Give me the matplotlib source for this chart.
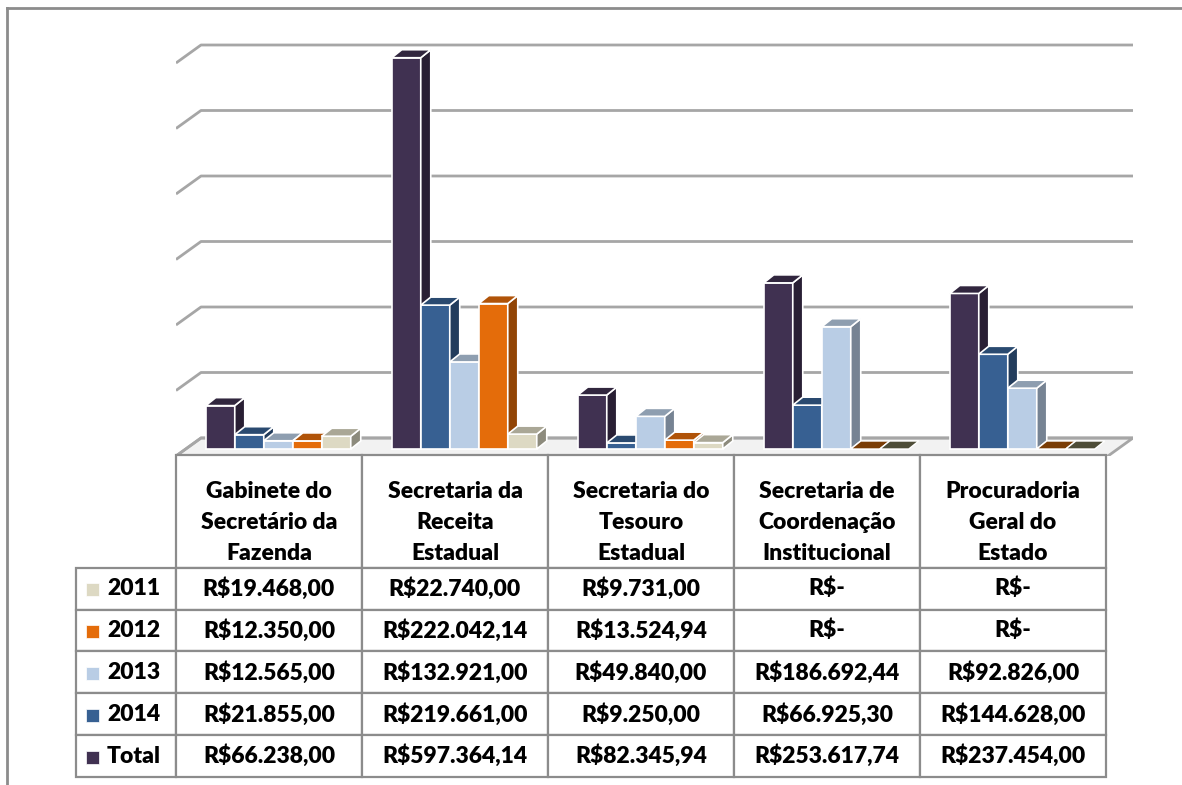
import numpy as np
import matplotlib.pyplot as plt
from matplotlib.patches import Polygon, Rectangle
from matplotlib.lines import Line2D
from matplotlib.transforms import Affine2D

plt.rcParams['font.family'] = ['Lato', 'DejaVu Sans']

categorias = ['Gabinete do\nSecretário da\nFazenda',
              'Secretaria da\nReceita\nEstadual',
              'Secretaria do\nTesouro\nEstadual',
              'Secretaria de\nCoordenação\nInstitucional',
              'Procuradoria\nGeral do\nEstado']
anos = ['2011', '2012', '2013', '2014', 'Total']
v2011 = [19468.00, 22740.00, 9731.00, 0, 0]
v2012 = [12350.00, 222042.14, 13524.94, 0, 0]
v2013 = [12565.00, 132921.00, 49840.00, 186692.44, 92826.00]
v2014 = [21855.00, 219661.00, 9250.00, 66925.30, 144628.00]
vtotal = [66238.00, 597364.14, 82345.94, 253617.74, 237454.00]

cores = {'2011': '#DDD9C3', '2012': '#E46C0A', '2013': '#B9CDE5',
         '2014': '#376092', 'Total': '#403151'}
cor_zero = {'2011': '#4E4D38', '2012': '#7A3D06'}
series = {'2011': v2011, '2012': v2012, '2013': v2013, '2014': v2014, 'Total': vtotal}
ordem_barras = ['Total', '2014', '2013', '2012', '2011']


def brl(v):
    if v == 0:
        return 'R$-'
    s = f'{v:,.2f}'.replace(',', 'X').replace('.', ',').replace('X', '.')
    return 'R$' + s


def escurece(c, f):
    r, g, b = plt.matplotlib.colors.to_rgb(c)
    return (r * f, g * f, b * f)


W, H = 1182, 785
fig = plt.figure(figsize=(W / 100, H / 100), dpi=100)

# chart area (pixel layout)
L, R, T, B = 176, 1133, 40, 456
ax = fig.add_axes([L / W, 1 - B / H, (R - L) / W, (B - T) / H])
ax.axis('off')
pxx = 186.0            # px per category
pxy = 65.5 / 100000    # px per R$
ax.set_xlim(0, (R - L) / pxx)
ax.set_ylim(-7 / pxy, 409 / pxy)
xmax = (R - L) / pxx

wdx, wdy = 25 / pxx, 18 / pxy
yf = -7 / pxy
cinza = '#A6A6A6'

# floor
ax.add_patch(Polygon([(0, yf), (xmax - wdx, yf), (xmax, yf + wdy), (wdx, yf + wdy)],
                     closed=True, fc='#F2F2F2', ec=cinza, lw=2, zorder=1))
# gridlines (back wall + left diagonal)
for k in range(7):
    y0 = yf + k * 100000
    ax.plot([0, wdx, xmax], [y0, y0 + wdy, y0 + wdy], color=cinza, lw=2,
            solid_capstyle='butt', zorder=1.5)

# 3D bars
w = 29 / pxx
bdx, bdy = 10 / pxx, 8 / pxy
x_cat = np.arange(len(categorias))
for j, s in enumerate(ordem_barras):
    vals = np.array(series[s])
    xs = x_cat + 0.16 + j * w
    z = 3 + 2 * j
    ax.bar(xs, vals, width=w, align='edge', color=cores[s], edgecolor='white',
           lw=1.2, zorder=z)
    for x, h in zip(xs, vals):
        if h == 0:
            ax.add_patch(Polygon([(x, 0), (x + bdx, bdy), (x + w + bdx, bdy), (x + w, 0)],
                                 closed=True, fc=cor_zero[s], ec='white', lw=1, zorder=z + 1))
            continue
        ax.add_patch(Polygon([(x + w, 0), (x + w + bdx, bdy), (x + w + bdx, h + bdy), (x + w, h)],
                             closed=True, fc=escurece(cores[s], 0.64), ec='white', lw=1.2, zorder=z + 1))
        ax.add_patch(Polygon([(x, h), (x + bdx, h + bdy), (x + w + bdx, h + bdy), (x + w, h)],
                             closed=True, fc=escurece(cores[s], 0.77), ec='white', lw=1.2, zorder=z + 1))

# data table
tax = fig.add_axes([0, 0, 1, 1])
tax.set_xlim(0, W)
tax.set_ylim(H, 0)
tax.axis('off')

TL, TR, TT, TB = 76, 1106, 455, 777
HEAD_H, ROW_H = 113, 42
texto = [[a] + [brl(series[a][i]) for i in range(len(categorias))] for a in anos]
tab = tax.table(cellText=texto, colLabels=[''] + categorias, cellLoc='center',
                bbox=[TL / W, 1 - TB / H, (TR - TL) / W, (TB - TT) / H])
tab.auto_set_font_size(False)
tab.set_fontsize(16.5)
for (r, c), cell in tab.get_celld().items():
    cell.set_width(100 if c == 0 else 186)
    cell.set_height(HEAD_H if r == 0 else ROW_H)
    cell.set_edgecolor('#8C8C8C')
    cell.set_linewidth(1.6)
    cell.get_text().set_fontweight('heavy')
    if r == 0:
        cell.get_text().set_linespacing(1.6)
        cell.get_text().set_transform(Affine2D().translate(0, -11))
        if c == 0:
            cell.visible_edges = ''
    elif c == 0:
        cell.get_text().set_ha('left')
        cell.PAD = 0.31

# legend keys in the row labels
for r, a in enumerate(anos):
    yc = TT + HEAD_H + (r + 0.5) * ROW_H
    tax.add_patch(Rectangle((86, yc - 6.5), 13, 13, fc=cores[a], ec='white', lw=0.5))

# outer frame
fig.add_artist(Line2D([7 / W, 1], [1 - 7.5 / H, 1 - 7.5 / H], color='#8C8C8C', lw=2))
fig.add_artist(Line2D([7 / W, 7 / W], [0, 1 - 7.5 / H], color='#8C8C8C', lw=2))

fig.savefig('out.png', dpi=100)
